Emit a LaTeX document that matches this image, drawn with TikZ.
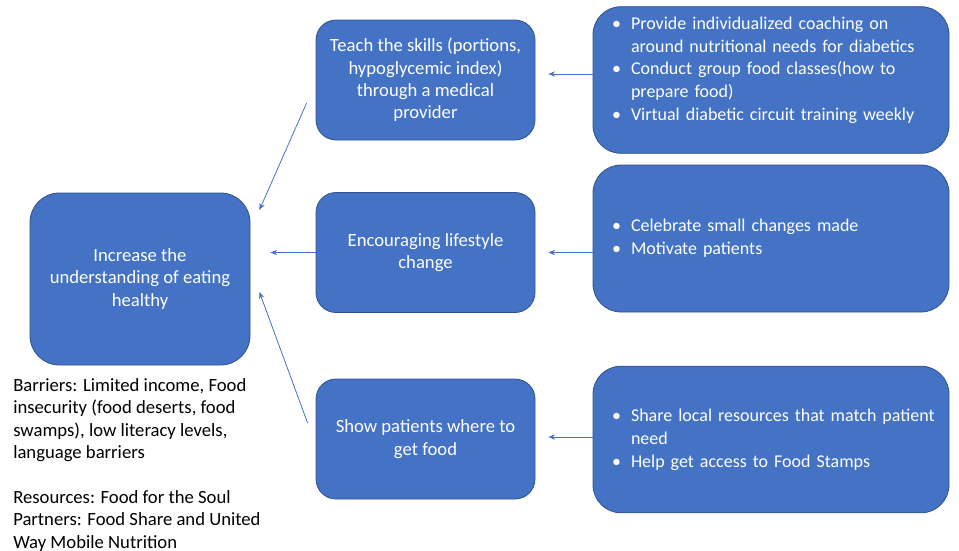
\documentclass[tikz,border=0pt]{standalone}
\usepackage{fontspec}
\setmainfont{Carlito}
\usetikzlibrary{arrows.meta}

\definecolor{boxblue}{HTML}{4472C4}
\definecolor{boxedge}{HTML}{2F528F}

\hyphenpenalty=10000
\newcommand{\bul}{\makebox[14.25pt][l]{\textbullet}}
\newcommand{\ind}{\hspace*{14.25pt}}

\tikzset{
  box/.style={draw=boxedge, fill=boxblue, text=white, line width=0.6pt,
    inner sep=0pt, font=\fontsize{14}{16.8}\selectfont},
  goalbox/.style={box, align=center, rounded corners=22pt,
    minimum width=165pt, minimum height=129pt},
  stepbox/.style={box, align=center, rounded corners=15pt,
    minimum width=164.25pt, minimum height=90pt},
  actbox/.style={box, align=left, rounded corners=21pt, inner xsep=14.25pt,
    text width=238.5pt, minimum height=110pt,
    font=\fontsize{13.5}{17.1}\selectfont},
  flow/.style={draw=boxblue, line width=0.6pt, ->},
  notes/.style={align=left, inner sep=0pt, font=\fontsize{14}{16.8}\selectfont}
}

\begin{document}
\begin{tikzpicture}[x=0.75pt, y=-0.75pt, >={Stealth[length=5pt,width=4pt]}]
  \useasboundingbox (0,0) rectangle (959,550);
  % goal on the left
  \node[goalbox] (goal) at (140,279) {Increase the\\understanding of eating\\healthy};
  % middle column
  \node[stepbox] (teach) at (425.5,80) {Teach the skills (portions,\\hypoglycemic index)\\through a medical\\provider};
  \node[stepbox] (lifestyle) at (425.5,252.5) {Encouraging lifestyle\\change};
  \node[stepbox] (where) at (425.5,439) {Show patients where to\\get food};
  % right column
  \node[actbox] (coach) at (771,80) {\bul Provide individualized coaching on\\
    \ind around nutritional needs for diabetics\\
    \bul Conduct group food classes(how to\\
    \ind prepare food)\\
    \bul Virtual diabetic circuit training weekly\\ \mbox{}};
  \node[actbox, minimum height=110.25pt] (celebrate) at (771,238.5) {\bul Celebrate small changes made\\
    \bul Motivate patients};
  \node[actbox] (share) at (771,439.5) {\bul\mbox{Share local resources that match patient}\\
    \ind need\\
    \bul Help get access to Food Stamps};
  % notes below the goal
  \node[notes, anchor=north west] (barriers) at (13,378) {Barriers: Limited income, Food\\
    insecurity (food deserts, food\\
    swamps), low literacy levels,\\
    language barriers\\[16.8pt]
    Resources: Food for the Soul\\
    Partners: Food Share and United\\
    Way Mobile Nutrition};
  % arrows
  \draw[flow, shorten >=9.75pt] (coach.west |- 0,74) -- (teach.east |- 0,74);
  \draw[flow, shorten >=9.75pt] (celebrate.west |- lifestyle.east) -- (lifestyle.east);
  \draw[flow, shorten >=9.75pt] (share.west |- 0,437) -- (where.east |- 0,437);
  \draw[flow] ([shift={(-9,23)}]teach.west) -- ([shift={(9,-69)}]goal.east);
  \draw[flow, shorten >=15pt] (lifestyle.west) -- (goal.east |- lifestyle.west);
  \draw[flow] ([shift={(-8,-16)}]where.west) -- ([shift={(9,13)}]goal.east);
\end{tikzpicture}
\end{document}
